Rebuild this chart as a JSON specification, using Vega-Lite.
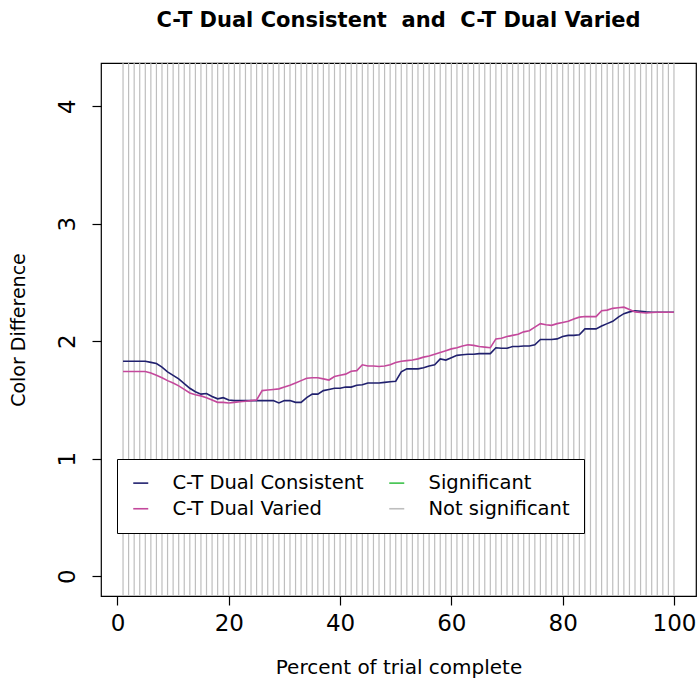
{
  "$schema": "https://vega.github.io/schema/vega-lite/v6.json",
  "autosize": "none",
  "width": 595,
  "height": 533,
  "padding": {"left": 101, "top": 63, "right": 2, "bottom": 92},
  "background": "white",
  "config": {
    "view": {"stroke": "black", "strokeWidth": 1.2},
    "font": "DejaVu Sans"
  },
  "title": {
    "text": "C-T Dual Consistent\u00a0 and\u00a0 C-T Dual Varied",
    "font": "DejaVu Sans",
    "fontSize": 21,
    "fontWeight": "bold",
    "color": "black",
    "anchor": "middle",
    "offset": 31
  },
  "data": {
    "values": [
      {"pct":1,"C-T Dual Consistent":1.83,"C-T Dual Varied":1.742},
      {"pct":2,"C-T Dual Consistent":1.83,"C-T Dual Varied":1.742},
      {"pct":3,"C-T Dual Consistent":1.83,"C-T Dual Varied":1.742},
      {"pct":4,"C-T Dual Consistent":1.83,"C-T Dual Varied":1.742},
      {"pct":5,"C-T Dual Consistent":1.83,"C-T Dual Varied":1.742},
      {"pct":6,"C-T Dual Consistent":1.82,"C-T Dual Varied":1.73},
      {"pct":7,"C-T Dual Consistent":1.81,"C-T Dual Varied":1.71},
      {"pct":8,"C-T Dual Consistent":1.78,"C-T Dual Varied":1.69},
      {"pct":9,"C-T Dual Consistent":1.74,"C-T Dual Varied":1.665},
      {"pct":10,"C-T Dual Consistent":1.71,"C-T Dual Varied":1.645},
      {"pct":11,"C-T Dual Consistent":1.68,"C-T Dual Varied":1.62},
      {"pct":12,"C-T Dual Consistent":1.64,"C-T Dual Varied":1.59},
      {"pct":13,"C-T Dual Consistent":1.60,"C-T Dual Varied":1.56},
      {"pct":14,"C-T Dual Consistent":1.57,"C-T Dual Varied":1.545},
      {"pct":15,"C-T Dual Consistent":1.55,"C-T Dual Varied":1.535},
      {"pct":16,"C-T Dual Consistent":1.555,"C-T Dual Varied":1.52},
      {"pct":17,"C-T Dual Consistent":1.53,"C-T Dual Varied":1.50},
      {"pct":18,"C-T Dual Consistent":1.51,"C-T Dual Varied":1.48},
      {"pct":19,"C-T Dual Consistent":1.52,"C-T Dual Varied":1.48},
      {"pct":20,"C-T Dual Consistent":1.50,"C-T Dual Varied":1.475},
      {"pct":21,"C-T Dual Consistent":1.495,"C-T Dual Varied":1.48},
      {"pct":22,"C-T Dual Consistent":1.495,"C-T Dual Varied":1.485},
      {"pct":23,"C-T Dual Consistent":1.495,"C-T Dual Varied":1.49},
      {"pct":24,"C-T Dual Consistent":1.495,"C-T Dual Varied":1.495},
      {"pct":25,"C-T Dual Consistent":1.495,"C-T Dual Varied":1.50},
      {"pct":26,"C-T Dual Consistent":1.495,"C-T Dual Varied":1.58},
      {"pct":27,"C-T Dual Consistent":1.495,"C-T Dual Varied":1.585},
      {"pct":28,"C-T Dual Consistent":1.495,"C-T Dual Varied":1.59},
      {"pct":29,"C-T Dual Consistent":1.475,"C-T Dual Varied":1.595},
      {"pct":30,"C-T Dual Consistent":1.495,"C-T Dual Varied":1.61},
      {"pct":31,"C-T Dual Consistent":1.495,"C-T Dual Varied":1.625},
      {"pct":32,"C-T Dual Consistent":1.48,"C-T Dual Varied":1.645},
      {"pct":33,"C-T Dual Consistent":1.48,"C-T Dual Varied":1.665},
      {"pct":34,"C-T Dual Consistent":1.52,"C-T Dual Varied":1.685},
      {"pct":35,"C-T Dual Consistent":1.55,"C-T Dual Varied":1.69},
      {"pct":36,"C-T Dual Consistent":1.55,"C-T Dual Varied":1.69},
      {"pct":37,"C-T Dual Consistent":1.58,"C-T Dual Varied":1.68},
      {"pct":38,"C-T Dual Consistent":1.59,"C-T Dual Varied":1.67},
      {"pct":39,"C-T Dual Consistent":1.60,"C-T Dual Varied":1.70},
      {"pct":40,"C-T Dual Consistent":1.60,"C-T Dual Varied":1.71},
      {"pct":41,"C-T Dual Consistent":1.61,"C-T Dual Varied":1.72},
      {"pct":42,"C-T Dual Consistent":1.61,"C-T Dual Varied":1.745},
      {"pct":43,"C-T Dual Consistent":1.625,"C-T Dual Varied":1.75},
      {"pct":44,"C-T Dual Consistent":1.63,"C-T Dual Varied":1.80},
      {"pct":45,"C-T Dual Consistent":1.645,"C-T Dual Varied":1.79},
      {"pct":46,"C-T Dual Consistent":1.645,"C-T Dual Varied":1.79},
      {"pct":47,"C-T Dual Consistent":1.645,"C-T Dual Varied":1.785},
      {"pct":48,"C-T Dual Consistent":1.65,"C-T Dual Varied":1.79},
      {"pct":49,"C-T Dual Consistent":1.655,"C-T Dual Varied":1.80},
      {"pct":50,"C-T Dual Consistent":1.66,"C-T Dual Varied":1.82},
      {"pct":51,"C-T Dual Consistent":1.74,"C-T Dual Varied":1.83},
      {"pct":52,"C-T Dual Consistent":1.765,"C-T Dual Varied":1.835},
      {"pct":53,"C-T Dual Consistent":1.765,"C-T Dual Varied":1.84},
      {"pct":54,"C-T Dual Consistent":1.765,"C-T Dual Varied":1.85},
      {"pct":55,"C-T Dual Consistent":1.775,"C-T Dual Varied":1.865},
      {"pct":56,"C-T Dual Consistent":1.79,"C-T Dual Varied":1.875},
      {"pct":57,"C-T Dual Consistent":1.80,"C-T Dual Varied":1.89},
      {"pct":58,"C-T Dual Consistent":1.85,"C-T Dual Varied":1.905},
      {"pct":59,"C-T Dual Consistent":1.84,"C-T Dual Varied":1.92},
      {"pct":60,"C-T Dual Consistent":1.86,"C-T Dual Varied":1.935},
      {"pct":61,"C-T Dual Consistent":1.88,"C-T Dual Varied":1.945},
      {"pct":62,"C-T Dual Consistent":1.885,"C-T Dual Varied":1.96},
      {"pct":63,"C-T Dual Consistent":1.89,"C-T Dual Varied":1.97},
      {"pct":64,"C-T Dual Consistent":1.89,"C-T Dual Varied":1.965},
      {"pct":65,"C-T Dual Consistent":1.895,"C-T Dual Varied":1.955},
      {"pct":66,"C-T Dual Consistent":1.895,"C-T Dual Varied":1.95},
      {"pct":67,"C-T Dual Consistent":1.895,"C-T Dual Varied":1.945},
      {"pct":68,"C-T Dual Consistent":1.945,"C-T Dual Varied":2.02},
      {"pct":69,"C-T Dual Consistent":1.94,"C-T Dual Varied":2.025},
      {"pct":70,"C-T Dual Consistent":1.94,"C-T Dual Varied":2.04},
      {"pct":71,"C-T Dual Consistent":1.955,"C-T Dual Varied":2.05},
      {"pct":72,"C-T Dual Consistent":1.955,"C-T Dual Varied":2.06},
      {"pct":73,"C-T Dual Consistent":1.96,"C-T Dual Varied":2.08},
      {"pct":74,"C-T Dual Consistent":1.96,"C-T Dual Varied":2.09},
      {"pct":75,"C-T Dual Consistent":1.97,"C-T Dual Varied":2.12},
      {"pct":76,"C-T Dual Consistent":2.015,"C-T Dual Varied":2.15},
      {"pct":77,"C-T Dual Consistent":2.015,"C-T Dual Varied":2.14},
      {"pct":78,"C-T Dual Consistent":2.015,"C-T Dual Varied":2.135},
      {"pct":79,"C-T Dual Consistent":2.02,"C-T Dual Varied":2.15},
      {"pct":80,"C-T Dual Consistent":2.04,"C-T Dual Varied":2.16},
      {"pct":81,"C-T Dual Consistent":2.05,"C-T Dual Varied":2.17},
      {"pct":82,"C-T Dual Consistent":2.05,"C-T Dual Varied":2.19},
      {"pct":83,"C-T Dual Consistent":2.055,"C-T Dual Varied":2.205},
      {"pct":84,"C-T Dual Consistent":2.105,"C-T Dual Varied":2.21},
      {"pct":85,"C-T Dual Consistent":2.105,"C-T Dual Varied":2.21},
      {"pct":86,"C-T Dual Consistent":2.105,"C-T Dual Varied":2.21},
      {"pct":87,"C-T Dual Consistent":2.13,"C-T Dual Varied":2.26},
      {"pct":88,"C-T Dual Consistent":2.15,"C-T Dual Varied":2.265},
      {"pct":89,"C-T Dual Consistent":2.17,"C-T Dual Varied":2.28},
      {"pct":90,"C-T Dual Consistent":2.205,"C-T Dual Varied":2.285},
      {"pct":91,"C-T Dual Consistent":2.235,"C-T Dual Varied":2.29},
      {"pct":92,"C-T Dual Consistent":2.25,"C-T Dual Varied":2.27},
      {"pct":93,"C-T Dual Consistent":2.26,"C-T Dual Varied":2.25},
      {"pct":94,"C-T Dual Consistent":2.255,"C-T Dual Varied":2.245},
      {"pct":95,"C-T Dual Consistent":2.25,"C-T Dual Varied":2.24},
      {"pct":96,"C-T Dual Consistent":2.247,"C-T Dual Varied":2.245},
      {"pct":97,"C-T Dual Consistent":2.247,"C-T Dual Varied":2.247},
      {"pct":98,"C-T Dual Consistent":2.247,"C-T Dual Varied":2.247},
      {"pct":99,"C-T Dual Consistent":2.247,"C-T Dual Varied":2.247},
      {"pct":100,"C-T Dual Consistent":2.247,"C-T Dual Varied":2.247}
    ]
  },
  "layer": [
    {
      "mark": {"type": "rule", "color": "#bebebe", "strokeWidth": 1.2},
      "encoding": {
        "x": {
          "field": "pct",
          "type": "quantitative",
          "scale": {"domain": [-2.96, 103.96], "nice": false, "zero": false},
          "axis": {
            "values": [0, 20, 40, 60, 80, 100],
            "title": "Percent of trial complete",
            "titleFont": "DejaVu Sans",
            "titleFontSize": 20,
            "titleFontWeight": "normal",
            "titleColor": "black",
            "titlePadding": 22,
            "labelFont": "DejaVu Sans",
            "labelFontSize": 23,
            "labelColor": "black",
            "labelPadding": 7,
            "labelFlush": false,
            "tickColor": "black",
            "tickSize": 9,
            "tickWidth": 1.2,
            "domain": false,
            "grid": false
          }
        }
      }
    },
    {
      "transform": [
        {"fold": ["C-T Dual Consistent", "C-T Dual Varied"], "as": ["series", "value"]}
      ],
      "mark": {"type": "line", "strokeWidth": 1.6, "clip": true},
      "encoding": {
        "x": {"field": "pct", "type": "quantitative"},
        "y": {
          "field": "value",
          "type": "quantitative",
          "scale": {"domain": [-0.168, 4.368], "nice": false, "zero": false},
          "axis": {
            "values": [0, 1, 2, 3, 4],
            "title": "Color Difference",
            "titleFont": "DejaVu Sans",
            "titleFontSize": 19,
            "titleFontWeight": "normal",
            "titleColor": "black",
            "titlePadding": 28,
            "labelFont": "DejaVu Sans",
            "labelFontSize": 23,
            "labelColor": "black",
            "labelAngle": 270,
            "labelAlign": "center",
            "labelBaseline": "bottom",
            "labelPadding": 13,
            "labelFlush": false,
            "tickColor": "black",
            "tickSize": 9,
            "tickWidth": 1.2,
            "domain": false,
            "grid": false
          }
        },
        "color": {
          "field": "series",
          "type": "nominal",
          "scale": {
            "domain": ["C-T Dual Consistent", "Significant", "C-T Dual Varied", "Not significant"],
            "range": ["#20206e", "#3cc24a", "#c4489c", "#bebebe"]
          },
          "legend": {
            "title": null,
            "orient": "none",
            "legendX": 16,
            "legendY": 396,
            "columns": 2,
            "direction": "horizontal",
            "columnPadding": 22,
            "rowPadding": 5,
            "padding": 14,
            "strokeColor": "black",
            "fillColor": "white",
            "symbolType": "stroke",
            "symbolSize": 225,
            "symbolStrokeWidth": 1.6,
            "labelFont": "DejaVu Sans",
            "labelFontSize": 19.5,
            "labelColor": "black",
            "labelOffset": 22,
            "labelLimit": 400
          }
        }
      }
    }
  ]
}
